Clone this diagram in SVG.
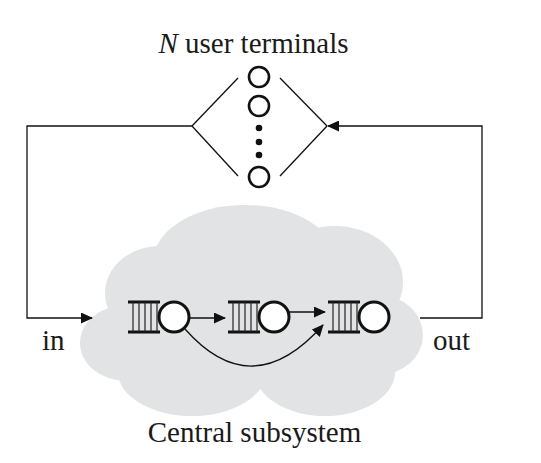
<svg xmlns="http://www.w3.org/2000/svg" width="541" height="463" viewBox="0 0 541 463">
<style>
.lbl{font-family:"Liberation Serif","Times New Roman",serif;font-size:29px;fill:#1a1a1a}
.cloud{fill:#e2e3e5}
.conn{fill:none;stroke:#111;stroke-width:1.3}
.term{fill:#fff;stroke:#111;stroke-width:2.6}
.dot{fill:#111}
.qline{stroke:#111;stroke-width:3;fill:none}
.qbar{stroke:#222;stroke-width:1.2}
.srv{fill:#fff;stroke:#111;stroke-width:3}
</style>
<defs>
<marker id="ah" viewBox="0 0 12 11" markerWidth="12" markerHeight="11" refX="11" refY="5.5" orient="auto" markerUnits="userSpaceOnUse">
<path d="M0,0 L12,5.5 L0,11 z" fill="#111"/>
</marker>
<g id="queue-shape">
<line class="qline" x1="0" y1="302" x2="32" y2="302"/>
<line class="qline" x1="0" y1="332" x2="32" y2="332"/>
<line class="qbar" x1="5" y1="302" x2="5" y2="332"/>
<line class="qbar" x1="11" y1="302" x2="11" y2="332"/>
<line class="qbar" x1="17" y1="302" x2="17" y2="332"/>
<line class="qbar" x1="23" y1="302" x2="23" y2="332"/>
<line class="qbar" x1="29" y1="302" x2="29" y2="332"/>
<circle class="srv" cx="46" cy="317" r="15"/>
</g>
</defs>

<g id="central-subsystem">
<ellipse class="cloud" cx="245" cy="262" rx="92" ry="57"/>
<ellipse class="cloud" cx="160" cy="293" rx="55" ry="47"/>
<ellipse class="cloud" cx="335" cy="282" rx="68" ry="56"/>
<ellipse class="cloud" cx="126" cy="343" rx="46" ry="38"/>
<ellipse class="cloud" cx="378" cy="335" rx="45" ry="40"/>
<ellipse class="cloud" cx="192" cy="372" rx="74" ry="44"/>
<ellipse class="cloud" cx="325" cy="372" rx="70" ry="44"/>
<ellipse class="cloud" cx="255" cy="320" rx="140" ry="68"/>
<text class="lbl" x="254.5" y="442" text-anchor="middle">Central subsystem</text>
</g>

<g id="terminals">
<text class="lbl" x="253.5" y="53" text-anchor="middle"><tspan font-style="italic">N</tspan> user terminals</text>
<circle class="term" cx="259" cy="77" r="10"/>
<circle class="term" cx="259" cy="106" r="10"/>
<circle class="dot" cx="259" cy="128" r="3.3"/>
<circle class="dot" cx="259" cy="142" r="3.3"/>
<circle class="dot" cx="259" cy="155" r="3.3"/>
<circle class="term" cx="259" cy="177" r="10"/>
</g>

<g id="queue1"><use href="#queue-shape" x="128"/></g>
<g id="queue2"><use href="#queue-shape" x="228"/></g>
<g id="queue3"><use href="#queue-shape" x="328"/></g>

<g id="label-in"><text class="lbl" x="42" y="350">in</text></g>
<g id="label-out"><text class="lbl" x="433" y="350">out</text></g>

<g id="connectors">
<line class="conn" x1="192" y1="126" x2="238" y2="78"/>
<line class="conn" x1="192" y1="126" x2="238" y2="176"/>
<line class="conn" x1="280" y1="78" x2="327" y2="126"/>
<line class="conn" x1="280" y1="176" x2="327" y2="126"/>
<path class="conn" d="M192,126 H27 V318 H92" marker-end="url(#ah)"/>
<path class="conn" d="M420,318 H482 V126 H328" marker-end="url(#ah)"/>
<path class="conn" d="M190,318 H225" marker-end="url(#ah)"/>
<path class="conn" d="M289,312 H325" marker-end="url(#ah)"/>
<path class="conn" d="M185,329 Q252,405 323,325" marker-end="url(#ah)"/>
</g>
</svg>
